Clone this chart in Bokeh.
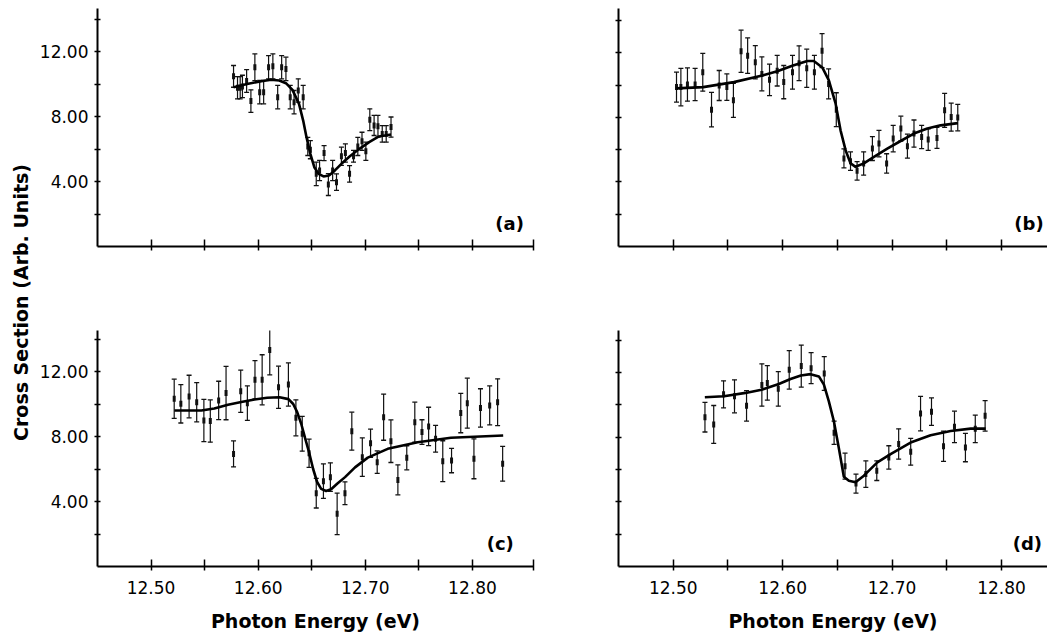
import math
from bokeh.plotting import figure
from bokeh.models import Range1d, FixedTicker, Whisker, TeeHead, ColumnDataSource, Label
from bokeh.layouts import row, column
from bokeh.embed import file_html
from bokeh.resources import INLINE

# ---------------- data ----------------
x_tick_values = [12.5, 12.55, 12.6, 12.65, 12.7, 12.75, 12.8]
x_tick_labels = {12.5: "12.50", 12.6: "12.60", 12.7: "12.70", 12.8: "12.80"}
y_tick_values = [2, 4, 6, 8, 10, 12, 14]
y_tick_labels = {4: "4.00", 8: "8.00", 12: "12.00"}

a_energy = [12.577, 12.5807, 12.5832, 12.5853, 12.5892, 12.5932, 12.5969, 12.6014, 12.6051, 12.6097,
            12.6137, 12.6182, 12.6219, 12.6259, 12.6299, 12.6335, 12.6374, 12.642, 12.6463, 12.6487,
            12.6542, 12.6573, 12.6615, 12.6655, 12.6695, 12.6731, 12.6777, 12.6814, 12.6853, 12.689,
            12.693, 12.6969, 12.7005, 12.7042, 12.7082, 12.7118, 12.7158, 12.7195, 12.724]
a_value = [10.47, 9.77, 9.77, 9.85, 10.19, 8.95, 11.03, 9.5, 9.5, 11.03,
           11.09, 9.19, 11.03, 10.93, 9.19, 8.88, 9.6, 9.19, 6.16, 5.96,
           4.47, 4.68, 5.75, 3.81, 4.68, 3.96, 5.55, 5.75, 4.47, 5.55,
           6.16, 6.47, 5.86, 7.8, 7.45, 7.4, 6.93, 6.93, 7.35]
a_error = [0.67, 0.69, 0.69, 0.69, 0.70, 0.69, 0.82, 0.72, 0.72, 0.72,
           0.77, 0.72, 0.72, 0.72, 0.72, 0.72, 0.72, 0.72, 0.56, 0.56,
           0.72, 0.62, 0.46, 0.67, 0.62, 0.51, 0.56, 0.56, 0.51, 0.36,
           0.56, 0.56, 0.56, 0.67, 0.62, 0.67, 0.51, 0.51, 0.62]
a_fit_energy = [12.577, 12.5907, 12.6029, 12.6121, 12.6197, 12.6259, 12.632, 12.6381, 12.642, 12.6451,
                12.6487, 12.6524, 12.6564, 12.661, 12.6661, 12.6716, 12.6777, 12.6853, 12.6945, 12.7036,
                12.7127, 12.724]
a_fit_value = [9.8, 10.01, 10.17, 10.26, 10.22, 10.05, 9.64, 8.78, 7.75, 6.73,
               5.7, 4.88, 4.47, 4.31, 4.37, 4.68, 5.09, 5.54, 6.01, 6.42,
               6.77, 6.89]

b_energy = [12.503, 12.507, 12.513, 12.520, 12.527, 12.535, 12.542, 12.549, 12.555, 12.562,
            12.568, 12.575, 12.581, 12.588, 12.595, 12.601, 12.609, 12.615, 12.622, 12.629,
            12.636, 12.642, 12.649, 12.656, 12.662, 12.668, 12.674, 12.682, 12.688, 12.695,
            12.701, 12.708, 12.714, 12.720, 12.727, 12.733, 12.741, 12.748, 12.754, 12.760]
b_value = [9.88, 9.88, 10.04, 10.04, 10.8, 8.48, 9.98, 9.88, 9.06, 12.1,
           11.83, 11.42, 10.7, 10.33, 10.9, 10.19, 10.8, 11.36, 11.05, 10.8,
           12.14, 10.08, 8.48, 5.46, 5.29, 4.69, 5.15, 6.07, 6.38, 5.15,
           6.69, 7.31, 6.22, 7.0, 6.79, 6.63, 6.73, 8.44, 8.02, 7.99]
b_error = [0.93, 1.16, 1.03, 1.0, 1.17, 1.07, 0.93, 0.82, 1.06, 1.31,
           1.1, 1.03, 1.05, 0.98, 0.95, 1.03, 1.05, 1.08, 1.18, 1.05,
           1.05, 0.93, 1.05, 0.59, 0.57, 0.57, 0.72, 0.74, 0.82, 0.6,
           0.82, 0.77, 0.74, 0.84, 0.72, 0.67, 0.65, 1.05, 0.87, 0.82]
b_fit_energy = [12.503, 12.5274, 12.5554, 12.5814, 12.5951, 12.6088, 12.6225, 12.6285, 12.6362, 12.6422,
                12.6484, 12.6529, 12.6575, 12.6621, 12.6666, 12.6742, 12.6834, 12.6956, 12.7078, 12.7199,
                12.7322, 12.7443, 12.7601]
b_fit_value = [9.8, 9.88, 10.19, 10.6, 10.86, 11.2, 11.5, 11.5, 11.1, 10.3,
               8.85, 7.2, 5.97, 5.15, 4.94, 5.15, 5.56, 6.07, 6.54, 7.0,
               7.31, 7.51, 7.65]

c_energy = [12.5216, 12.5278, 12.5355, 12.5426, 12.5493, 12.5553, 12.5631, 12.5700, 12.5770, 12.5837,
            12.5899, 12.5970, 12.6037, 12.6108, 12.6190, 12.6282, 12.6352, 12.6411, 12.6475, 12.6542,
            12.6609, 12.6674, 12.6737, 12.6810, 12.6874, 12.6972, 12.7049, 12.7111, 12.7171, 12.7239,
            12.7304, 12.7387, 12.7462, 12.7529, 12.7591, 12.7656, 12.7723, 12.7805, 12.7891, 12.7952,
            12.8014, 12.8075, 12.8161, 12.8235, 12.8282]
c_value = [10.32, 10.01, 10.46, 10.11, 8.98, 8.95, 10.22, 10.67, 6.93, 10.79,
           10.05, 11.49, 11.49, 13.33, 11.03, 11.2, 9.15, 8.17, 6.97, 4.51,
           5.25, 5.5, 3.24, 4.51, 8.33, 6.73, 7.59, 6.42, 9.19, 7.71,
           5.33, 6.69, 8.88, 8.27, 8.62, 7.86, 6.48, 6.52, 9.44, 10.05,
           6.63, 9.76, 9.91, 10.11, 6.32]
c_error = [1.21, 1.18, 1.31, 1.21, 1.3, 1.3, 1.18, 1.64, 0.8, 1.3,
           1.06, 1.18, 1.54, 1.54, 1.3, 1.33, 1.11, 1.07, 0.87, 0.91,
           1.06, 0.88, 1.28, 0.7, 1.17, 1.18, 0.87, 0.69, 1.42, 1.31,
           0.92, 0.74, 1.23, 0.76, 1.18, 0.82, 1.26, 0.75, 1.21, 1.54,
           1.23, 1.18, 1.2, 1.44, 1.07]
c_fit_energy = [12.5218, 12.5469, 12.5590, 12.5718, 12.5842, 12.5966, 12.6084, 12.6199, 12.6283, 12.6327,
                12.6364, 12.6401, 12.6438, 12.6476, 12.6513, 12.6550, 12.6588, 12.6634, 12.6681, 12.6737,
                12.6811, 12.6904, 12.7023, 12.7209, 12.7489, 12.7799, 12.8287]
c_fit_value = [9.6, 9.6, 9.72, 9.95, 10.12, 10.28, 10.38, 10.42, 10.3, 10.0,
               9.5, 8.8, 7.9, 7.0, 6.0, 5.2, 4.78, 4.65, 4.75, 5.09,
               5.5, 6.1, 6.7, 7.24, 7.65, 7.92, 8.06]

d_energy = [12.529, 12.537, 12.546, 12.556, 12.567, 12.581, 12.586, 12.596, 12.606, 12.617,
            12.626, 12.638, 12.647, 12.657, 12.667, 12.676, 12.686, 12.697, 12.706, 12.717,
            12.726, 12.736, 12.747, 12.757, 12.767, 12.776, 12.785]
d_value = [9.24, 8.79, 10.65, 10.53, 9.94, 11.23, 11.36, 10.99, 12.17, 12.4,
           12.27, 11.94, 8.28, 6.21, 5.13, 5.72, 5.93, 6.75, 7.58, 7.1,
           9.46, 9.58, 7.44, 8.64, 7.36, 8.52, 9.32]
d_error = [0.92, 1.17, 0.84, 1.02, 0.94, 1.31, 1.07, 1.07, 1.19, 1.3,
           0.96, 1.04, 0.72, 0.8, 0.59, 0.82, 0.61, 0.72, 0.94, 0.83,
           1.07, 0.85, 0.94, 0.97, 0.88, 0.85, 0.94]
d_fit_energy = [12.5289, 12.5463, 12.5661, 12.5807, 12.5965, 12.6072, 12.6166, 12.6255, 12.6331, 12.6377,
                12.6422, 12.6468, 12.6514, 12.6559, 12.6605, 12.6666, 12.6742, 12.6865, 12.6986, 12.7169,
                12.7352, 12.7535, 12.7718, 12.7855]
d_fit_value = [10.47, 10.53, 10.74, 10.94, 11.29, 11.6, 11.82, 11.9, 11.76, 11.25,
               10.22, 8.99, 7.3, 5.55, 5.3, 5.21, 5.62, 6.44, 6.95, 7.67,
               8.12, 8.38, 8.53, 8.53]

panel_names = ["(a)", "(b)", "(c)", "(d)"]
x_title = "Photon Energy (eV)"
y_title = "Cross Section (Arb. Units)"

TICK_FONT = "DejaVu Sans"
BOLD_FONT = "DejaVu Sans"


def make_panel(energy, val, err, fit_e, fit_v, name, width, height, left, right, top, bottom,
               x_end, y_end, end_tick, show_x, show_y, label_x, label_y):
    p = figure(width=width, height=height,
               x_range=Range1d(12.45, x_end), y_range=Range1d(0, y_end),
               output_backend="svg", toolbar_location=None,
               min_border_left=left, min_border_right=right,
               min_border_top=top, min_border_bottom=bottom,
               outline_line_color=None, background_fill_color="white",
               border_fill_color="white")
    p.grid.visible = False

    xt = list(x_tick_values) + ([x_end] if end_tick else [])
    xa = p.xaxis[0]
    xa.ticker = FixedTicker(ticks=xt)
    overrides = {}
    for t in xt:
        overrides[t] = x_tick_labels.get(t, "") if show_x else ""
    xa.major_label_overrides = overrides
    xa.axis_line_width = 2
    xa.axis_line_color = "black"
    xa.major_tick_line_width = 1.5
    xa.major_tick_line_color = "black"
    xa.major_tick_in = 7
    xa.major_tick_out = 4
    xa.minor_tick_line_color = None
    xa.major_label_text_font = TICK_FONT
    xa.major_label_text_font_size = "17px"
    xa.major_label_text_color = "black"
    xa.major_label_standoff = 10
    if show_x:
        xa.axis_label = x_title
        xa.axis_label_text_font = BOLD_FONT
        xa.axis_label_text_font_style = "bold"
        xa.axis_label_text_font_size = "19px"
        xa.axis_label_text_color = "black"
        xa.axis_label_standoff = 13

    ya = p.yaxis[0]
    ya.ticker = FixedTicker(ticks=y_tick_values)
    yo = {}
    for t in y_tick_values:
        yo[t] = y_tick_labels.get(t, "") if show_y else ""
    ya.major_label_overrides = yo
    ya.axis_line_width = 2
    ya.axis_line_color = "black"
    ya.major_tick_line_width = 1.5
    ya.major_tick_line_color = "black"
    ya.major_tick_in = 3
    ya.major_tick_out = 3
    ya.minor_tick_line_color = None
    ya.major_label_text_font = TICK_FONT
    ya.major_label_text_font_size = "17px"
    ya.major_label_text_color = "black"
    ya.major_label_standoff = 6

    src = ColumnDataSource(dict(
        x=energy, y=val,
        upper=[v + e for v, e in zip(val, err)],
        lower=[v - e for v, e in zip(val, err)],
    ))
    w = Whisker(source=src, base="x", upper="upper", lower="lower", dimension="height",
                line_color="#111111", line_width=1.2,
                upper_head=TeeHead(size=5, line_color="#111111", line_width=1.3),
                lower_head=TeeHead(size=5, line_color="#111111", line_width=1.3))
    p.add_layout(w)
    p.rect(x="x", y="y", width=3, height=6, width_units="screen", height_units="screen",
           source=src, fill_color="#111111", line_color=None)
    p.line(fit_e, fit_v, line_color="black", line_width=2.6)

    p.add_layout(Label(x=label_x, y=label_y, text=name, text_align="right",
                       text_baseline="bottom", text_font=BOLD_FONT,
                       text_font_style="bold", text_font_size="18px",
                       text_color="black"))
    return p


pa = make_panel(a_energy, a_value, a_error, a_fit_energy, a_fit_value, panel_names[0],
                509, 290, 60, 12, 8, 44, 12.857, 238 / 16.25, True, False, True, 12.848, 0.75)
pb = make_panel(b_energy, b_value, b_error, b_fit_energy, b_fit_value, panel_names[1],
                502, 290, 73, 0, 8, 43, 12.842, 239 / 16.2, False, False, False, 12.8385, 0.8)
pc = make_panel(c_energy, c_value, c_error, c_fit_energy, c_fit_value, panel_names[2],
                509, 344, 60, 12, 40, 68, 12.857, 236 / 16.25, True, True, True, 12.8386, 0.75)
pd = make_panel(d_energy, d_value, d_error, d_fit_energy, d_fit_value, panel_names[3],
                502, 344, 73, 0, 40, 66, 12.842, 238 / 16.3, False, True, False, 12.837, 0.8)

ylab = figure(width=36, height=634, x_range=Range1d(0, 36), y_range=Range1d(0, 634),
              output_backend="svg", toolbar_location=None, min_border=0,
              x_axis_location=None, y_axis_location=None, outline_line_color=None)
ylab.grid.visible = False
ylab.add_layout(Label(x=20, y=332, text=y_title, angle=math.pi / 2,
                      text_align="center", text_baseline="middle",
                      text_font=BOLD_FONT, text_font_style="bold",
                      text_font_size="19px", text_color="black"))

layout = row(ylab, column(row(pa, pb), row(pc, pd)))

open("out.html", "w").write(file_html(layout, INLINE))
